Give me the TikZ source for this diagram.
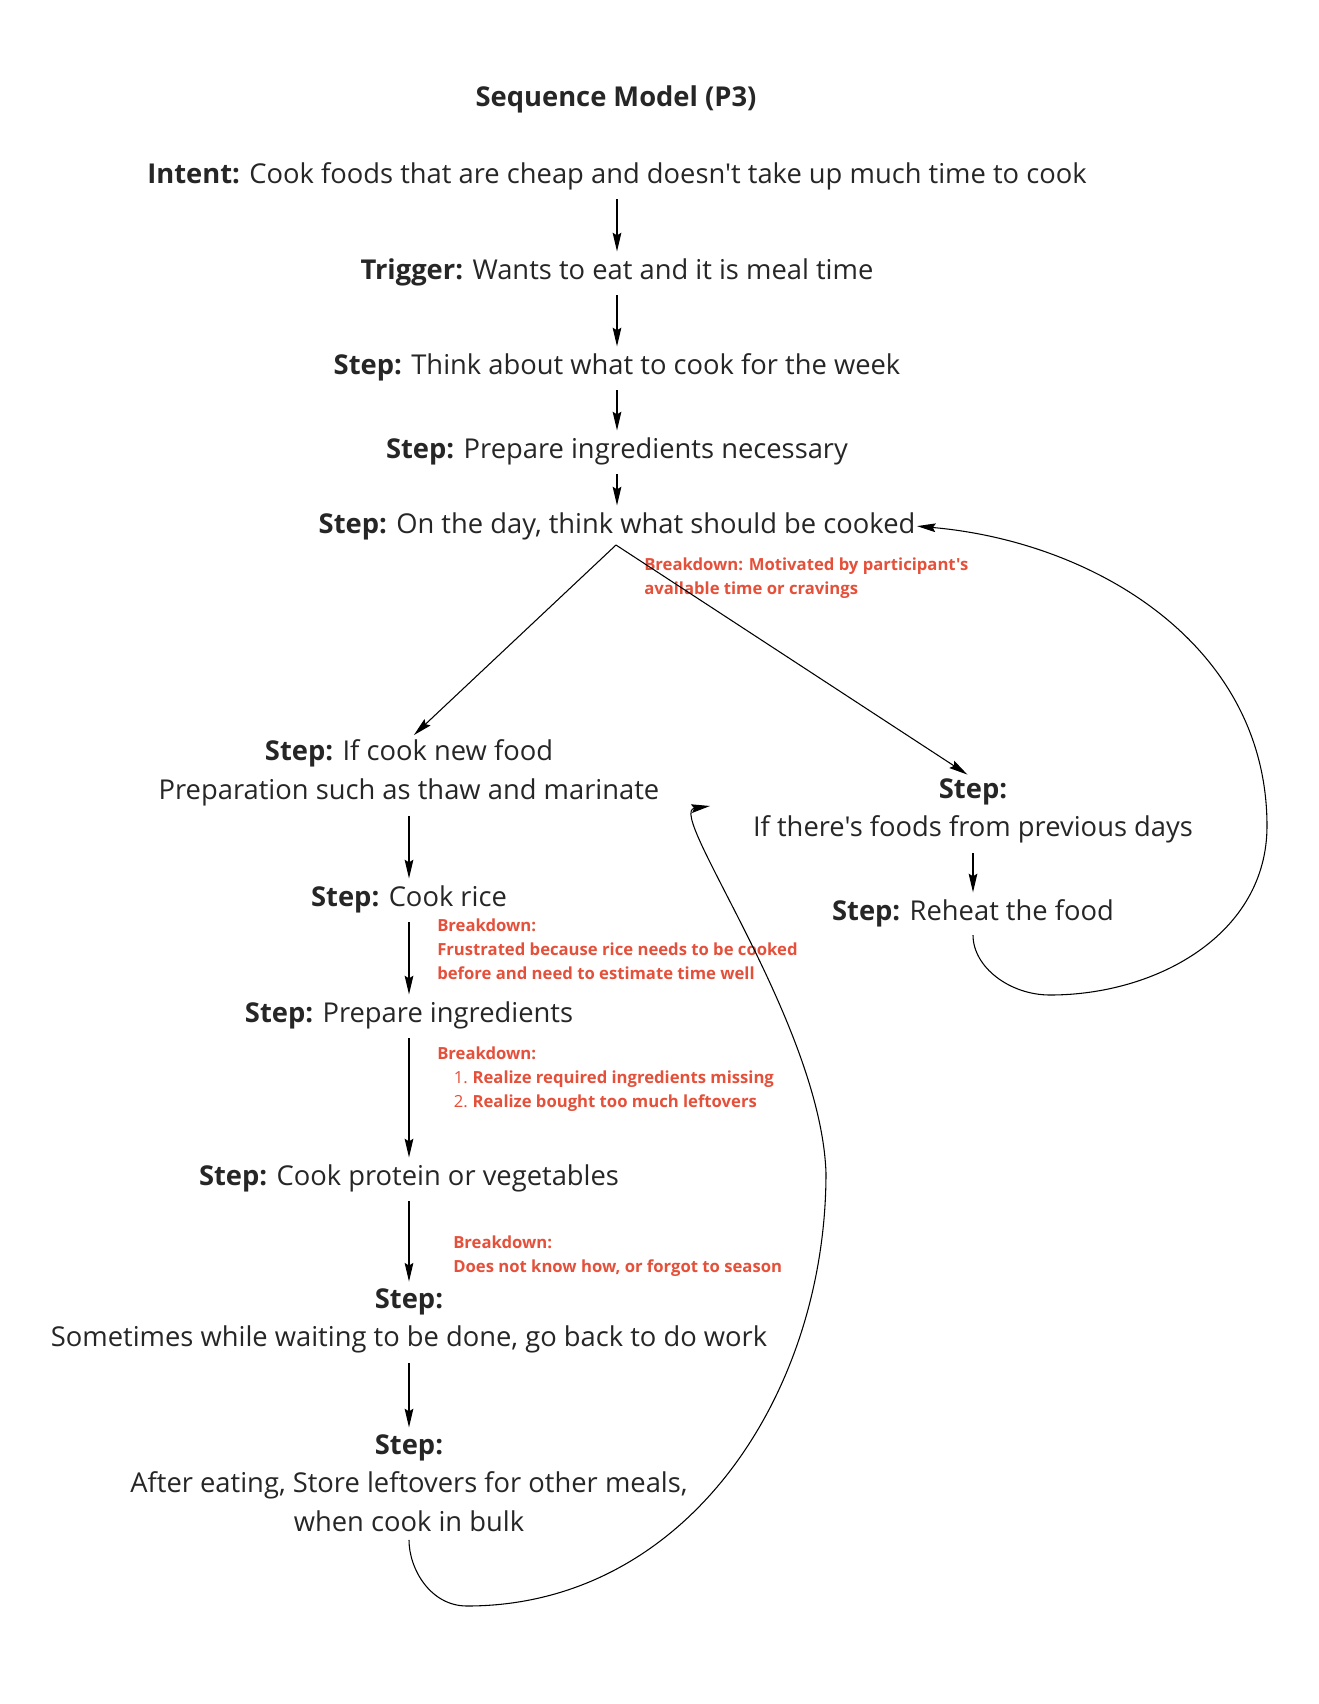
\documentclass[tikz,border=0pt]{standalone}
\usepackage{fontspec}
\setmainfont{Open Sans}[Ligatures=TeXOff]
\usetikzlibrary{arrows.meta}
\definecolor{txt}{HTML}{262626}
\definecolor{bred}{HTML}{E5503A}
\begin{document}
\begin{tikzpicture}[x=0.75pt,y=0.75pt,
  lbl/.style={font=\fontsize{20.5}{29}\selectfont, text=txt, align=center, inner sep=0pt},
  ttl/.style={font=\bfseries\fontsize{20.5}{24}\selectfont, text=txt, inner sep=0pt},
  brk/.style={font=\bfseries\fontsize{12.5}{18}\selectfont, text=bred, align=left, anchor=north west, inner sep=0pt},
  tip/.style={-{Stealth[length=14pt,width=6.5pt,inset=2pt]}},
  arr/.style={tip, line width=0.8pt, black, shorten <=7pt, shorten >=5pt},
  loop/.style={tip, line width=0.8pt, black}
]
\useasboundingbox (0,0) rectangle (1319,-1704);
\fill[white] (0,0) rectangle (1319,-1704);

\node[ttl] (title) at (616,-99) {Sequence Model (P3)};
\node[lbl] (intent) at (617,-176) {\textbf{Intent:} Cook foods that are cheap and doesn't take up much time to cook};
\node[lbl] (trigger) at (617,-272) {\textbf{Trigger:} Wants to eat and it is meal time};
\node[lbl] (think) at (617,-367) {\textbf{Step:} Think about what to cook for the week};
\node[lbl] (prep) at (617,-451) {\textbf{Step:} Prepare ingredients necessary};
\node[lbl] (day) at (617,-526) {\textbf{Step:} On the day, think what should be cooked};
\coordinate (fork) at (616,-545);

\node[lbl] (newfood) at (409,-773) {\textbf{Step:} If cook new food\\Preparation such as thaw and marinate};
\node[lbl] (prev) at (973,-811) {\textbf{Step:}\\If there's foods from previous days};
\node[lbl] (reheat) at (973,-913) {\textbf{Step:} Reheat the food};

\node[lbl] (rice) at (409,-899) {\textbf{Step:} Cook rice};
\node[lbl] (ingr) at (409,-1015) {\textbf{Step:} Prepare ingredients};
\node[lbl] (protein) at (409,-1178) {\textbf{Step:} Cook protein or vegetables};
\node[lbl] (wait) at (409,-1321) {\textbf{Step:}\\Sometimes while waiting to be done, go back to do work};
\node[lbl] (store) at (409,-1483) {\textbf{Step:}\\After eating, Store leftovers for other meals,\\when cook in bulk};

\node[brk] (b1) at (644,-558) {Breakdown: Motivated by participant's\\available time or cravings};
\node[brk] (b2) at (437,-919) {Breakdown:\\Frustrated because rice needs to be cooked\\before and need to estimate time well};
\node[brk] (b3) at (437,-1047) {Breakdown:\\\hspace*{12.5pt}\makebox[14pt][l]{\mdseries 1.}Realize required ingredients missing\\\hspace*{12.5pt}\makebox[14pt][l]{\mdseries 2.}Realize bought too much leftovers};
\node[brk] (b4) at (453,-1236) {Breakdown:\\Does not know how, or forgot to season};

\draw[arr] (intent) -- (trigger);
\draw[arr] (trigger) -- (think);
\draw[arr] (think) -- (prep);
\draw[arr] (prep) -- (day);
\draw[arr, shorten <=0pt] (fork) -- (newfood.north);
\draw[arr, shorten <=0pt] (fork) -- (prev.north);
\draw[arr] (prev) -- (reheat);
\draw[arr] (newfood) -- (rice);
\draw[arr] (rice) -- (ingr);
\draw[arr] (ingr) -- (protein);
\draw[arr] (protein) -- (wait);
\draw[arr] (wait) -- (store);

\coordinate (r1) at (1050,-995);
\coordinate (r2) at (1267,-826);
\draw[loop, shorten <=6pt, shorten >=1pt] (reheat.south) to[out=-90,in=180] (r1) to[out=0,in=-90] (r2) to[out=90,in=-5] (day.east);

\coordinate (l1) at (467,-1606);
\coordinate (l2) at (826,-1173);
\coordinate (hook) at (710,-806);
\draw[loop, shorten <=6pt] (store.south) to[out=-90,in=180] (l1) to[out=0,in=-90] (l2) to[out=92,in=188,in looseness=0.3] (hook);
\end{tikzpicture}
\end{document}
